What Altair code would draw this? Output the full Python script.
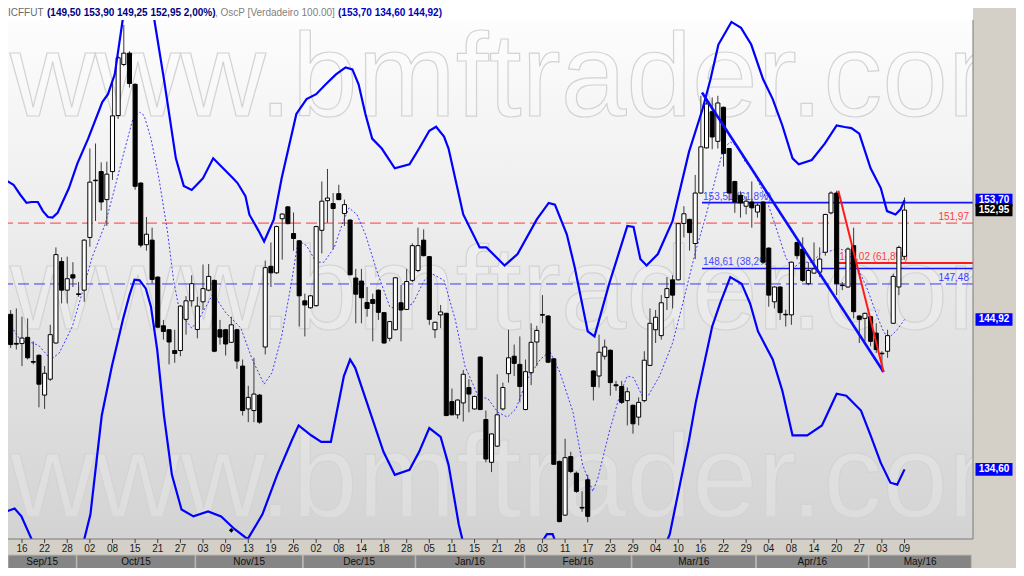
import altair as alt
import pandas as pd

W, H = 965, 519
X_DOMAIN = [-0.47, 170.1]
Y_DOMAIN = [130.06, 167.97]

# ---------------- OHLC (one entry per trading day, bar 0 .. 158) ----------------
opens = [145.29, 143.22, 143.21, 143.65, 141.95, 142.39, 139.62, 140.72, 143.25, 149.12,
         147.03, 148.15, 146.76, 147.03, 150.90, 155.22, 155.88, 153.74, 155.88, 160.24,
         164.33, 165.25, 162.73, 155.00, 150.36, 150.70, 147.98, 144.47, 144.19, 142.72,
         142.72, 144.93, 146.26, 144.21, 146.19, 147.03, 147.74, 144.19, 144.19, 143.30,
         144.19, 141.63, 138.67, 138.56, 139.62, 142.97, 148.77, 148.29, 152.30, 153.19,
         151.19, 150.65, 146.26, 145.76, 145.91, 151.43, 153.66, 153.44, 154.19, 152.69,
         152.20, 147.91, 147.69, 146.14, 146.35, 147.03, 145.41, 143.58, 144.19, 146.12,
         145.64, 147.74, 148.46, 150.70, 149.48, 144.19, 145.25, 145.36, 139.17, 138.27,
         139.08, 140.14, 138.67, 142.26, 137.95, 135.07, 136.15, 138.67, 141.10, 142.32,
         141.75, 138.63, 141.17, 143.32, 145.27, 145.17, 142.14, 135.13, 131.60, 135.45,
         134.35, 132.10, 133.91, 141.29, 140.94, 142.32, 142.74, 140.33, 140.21, 139.24,
         138.92, 138.11, 139.24, 141.68, 144.19, 143.77, 146.50, 147.78, 147.78, 151.95,
         152.25, 150.45, 154.24, 157.71, 160.55, 158.22, 160.90, 157.66, 155.12, 154.07,
         153.24, 153.56, 152.80, 153.56, 150.11, 146.19, 147.26, 145.29, 145.25, 150.53,
         150.04, 147.50, 148.27, 148.34, 149.80, 152.74, 154.24, 147.40, 147.26, 150.29,
         145.17, 145.00, 145.12, 143.95, 142.53, 142.67, 144.65, 147.26, 149.50]
highs = [145.60, 145.71, 145.12, 145.00, 143.37, 142.44, 141.63, 144.54, 150.16, 149.43,
         149.48, 149.07, 147.62, 150.77, 157.66, 158.05, 156.59, 156.64, 163.00, 165.00,
         167.56, 165.40, 162.80, 155.05, 152.43, 151.63, 148.02, 144.89, 144.22, 144.19,
         145.95, 146.60, 148.11, 146.55, 148.90, 148.94, 147.80, 144.89, 144.25, 145.12,
         144.25, 142.09, 140.26, 142.21, 139.70, 149.19, 150.53, 151.78, 152.70, 153.25,
         152.77, 150.70, 146.78, 146.68, 151.78, 155.12, 156.08, 154.24, 154.87, 153.74,
         152.25, 148.58, 148.58, 147.26, 146.78, 147.08, 145.46, 144.82, 147.98, 147.41,
         148.58, 150.46, 151.63, 151.50, 149.53, 144.77, 145.96, 145.41, 140.07, 139.33,
         141.36, 140.72, 139.58, 142.31, 138.56, 137.02, 141.06, 140.48, 144.19, 143.14,
         143.72, 142.09, 144.65, 144.47, 146.67, 145.22, 142.19, 135.18, 136.65, 135.77,
         134.46, 133.15, 134.24, 141.34, 143.84, 143.49, 142.80, 140.60, 140.60, 140.14,
         138.97, 139.46, 142.67, 145.71, 145.60, 146.67, 147.98, 148.11, 151.98, 153.24,
         152.30, 155.62, 161.81, 161.81, 161.68, 161.81, 160.95, 157.71, 155.17, 154.37,
         153.99, 155.12, 153.49, 153.60, 150.16, 147.31, 147.31, 145.62, 149.12, 150.58,
         150.90, 149.07, 150.53, 150.16, 152.67, 154.37, 154.42, 147.62, 150.16, 151.63,
         145.22, 145.41, 145.17, 144.65, 142.67, 144.19, 148.22, 150.29, 153.90]
lows = [142.90, 142.79, 141.63, 142.10, 141.75, 138.78, 138.67, 140.60, 143.21, 146.07,
        146.07, 147.26, 146.55, 146.19, 150.21, 152.13, 152.92, 151.76, 155.24, 159.98,
        164.19, 162.47, 154.49, 150.16, 149.92, 147.50, 144.30, 143.49, 141.75, 141.86,
        142.32, 143.84, 145.84, 143.58, 145.60, 146.95, 142.60, 143.14, 142.37, 143.25,
        141.44, 138.22, 137.77, 137.77, 137.66, 142.44, 147.26, 148.22, 149.26, 151.88,
        149.92, 144.42, 143.72, 145.70, 145.84, 149.72, 152.00, 150.04, 153.70, 151.76,
        148.10, 144.65, 144.65, 145.12, 143.37, 144.89, 143.20, 143.37, 144.14, 143.37,
        145.60, 147.62, 148.34, 149.50, 144.54, 143.60, 144.30, 138.17, 138.22, 138.00,
        137.81, 138.44, 138.62, 138.58, 135.07, 134.42, 136.10, 138.56, 140.48, 140.94,
        139.12, 138.58, 140.31, 141.63, 144.65, 141.85, 134.89, 131.13, 131.55, 134.35,
        133.05, 131.82, 131.14, 139.25, 140.14, 142.09, 139.58, 139.92, 139.01, 137.55,
        136.99, 137.55, 139.12, 141.63, 143.25, 143.49, 145.60, 145.71, 147.74, 150.90,
        149.92, 149.30, 154.18, 157.66, 157.60, 157.66, 156.26, 153.66, 152.74, 152.38,
        152.62, 151.63, 152.38, 148.95, 145.84, 145.71, 144.89, 144.42, 144.54, 149.28,
        147.62, 147.39, 148.22, 147.98, 149.55, 152.62, 146.67, 147.03, 147.20, 145.00,
        143.25, 143.37, 143.02, 142.55, 141.25, 142.21, 144.60, 146.67, 149.25]
closes = [143.14, 143.17, 143.60, 142.21, 141.90, 140.37, 141.13, 143.84, 149.63, 147.03,
          147.86, 147.91, 146.72, 150.70, 155.07, 155.18, 153.56, 155.68, 160.22, 164.87,
          165.25, 162.79, 154.75, 150.33, 151.14, 147.81, 144.37, 144.07, 143.32, 142.51,
          145.88, 146.26, 147.50, 145.88, 147.14, 148.03, 142.67, 143.67, 143.18, 144.54,
          141.98, 138.56, 139.46, 139.69, 137.77, 148.67, 148.29, 151.71, 152.65, 151.93,
          150.82, 146.62, 145.96, 146.62, 151.71, 153.62, 153.86, 153.07, 153.74, 153.36,
          148.15, 146.74, 146.48, 145.71, 146.07, 145.43, 143.25, 144.77, 147.93, 145.60,
          147.66, 150.29, 150.29, 149.55, 144.93, 144.72, 145.46, 138.22, 138.27, 139.28,
          141.06, 139.69, 139.53, 138.63, 135.29, 136.97, 138.27, 140.14, 142.21, 141.82,
          140.21, 141.24, 143.30, 144.14, 145.23, 141.90, 134.94, 131.18, 135.38, 134.46,
          133.15, 132.06, 131.52, 140.21, 142.60, 142.97, 140.48, 140.26, 139.12, 139.85,
          137.66, 139.12, 142.04, 144.65, 145.08, 146.12, 147.14, 146.67, 151.93, 152.67,
          151.26, 154.24, 157.79, 161.16, 158.56, 161.24, 157.28, 154.24, 153.56, 153.49,
          153.62, 153.12, 153.32, 149.07, 146.67, 147.26, 145.41, 145.25, 149.07, 149.55,
          147.74, 148.46, 148.58, 149.30, 152.62, 154.24, 147.50, 147.36, 150.04, 145.48,
          144.93, 145.36, 143.37, 142.79, 142.49, 143.77, 148.03, 150.16, 152.95]

# ---------------- OscP envelope (vertices: bar position, value) ----------------
upper_x = [-0.7, 0.5, 1.7, 2.8, 3.7, 4.8, 5.7, 6.6, 7.4, 8.3, 10.3, 11.8, 13.7, 16.2, 17.2, 18.4, 19.8,
           21.0, 22.8, 24.5, 25.4, 27.1, 29.2, 30.6, 32.0, 33.2, 34.0, 35.8, 37.9, 39.3, 40.1, 41.5,
           42.2, 43.8, 44.8, 46.5, 47.9, 49.1, 50.5, 52.3, 54.0, 55.7, 57.5, 59.2, 60.4, 61.5, 62.7,
           63.9, 65.6, 67.9, 70.5, 72.2, 74.0, 75.2, 76.6, 77.4, 80.0, 82.9, 84.1, 87.3, 89.6, 93.0,
           95.1, 96.2, 98.3, 99.7, 102.0, 103.2, 105.8, 109.0, 110.1, 111.3, 112.4, 114.4, 117.0,
           119.9, 122.3, 123.7, 125.1, 127.4, 129.1, 130.9, 133.0, 134.7, 136.4, 138.2, 139.3, 141.6,
           143.9, 146.0, 147.4, 148.6, 150.0, 152.0, 153.8, 154.9, 156.4, 157.3, 158.0]
upper_v = [155.17, 154.87, 154.11, 153.49, 153.56, 153.56, 152.87, 152.43, 152.38, 152.74, 154.62,
           156.51, 158.43, 161.31, 161.94, 163.53, 167.97, 170.03, 170.86, 169.20, 167.97, 163.13,
           156.90, 154.77, 154.47, 155.00, 155.37, 156.90, 155.98, 155.37, 155.00, 154.01, 152.60,
           151.41, 150.60, 152.23, 155.37, 157.66, 160.37, 161.55, 161.94, 162.73, 163.53, 164.09,
           163.93, 162.73, 160.37, 158.43, 157.66, 156.13, 156.44, 157.66, 159.05, 159.36, 158.59,
           157.66, 152.62, 150.16, 150.16, 148.83, 149.67, 152.25, 153.49, 153.36, 151.14, 148.70,
           144.07, 143.72, 147.50, 151.76, 151.68, 149.31, 148.83, 149.67, 152.13, 157.40, 160.76,
           163.13, 165.95, 167.81, 167.32, 165.95, 163.13, 161.55, 159.46, 156.90, 156.44, 156.77,
           158.04, 159.46, 159.34, 159.26, 158.82, 156.13, 154.62, 152.87, 152.62, 153.00, 153.70]
lower_x = [-0.7, 0.7, 1.9, 3.7, 6.3, 11.5, 14.1, 16.1, 17.9, 19.9, 21.0, 21.9, 22.8, 23.9, 24.8,
           25.9, 27.1, 28.5, 30.2, 32.3, 34.9, 37.2, 39.6, 41.9, 44.5, 47.1, 49.7, 50.9, 53.1, 54.9,
           56.6, 58.9, 60.0, 60.9, 65.9, 67.9, 70.5, 72.2, 74.0, 76.0, 77.4, 79.2, 80.9, 86.1, 91.3,
           94.8, 95.8, 97.4, 103.4, 110.4, 114.7, 116.5, 119.9, 121.1, 124.0, 125.4, 127.2, 129.2,
           130.7, 132.1, 134.7, 136.4, 138.2, 140.8, 143.4, 146.0, 147.7, 150.3, 152.0, 153.8,
           155.5, 156.7, 158.0]
lower_v = [131.84, 132.03, 131.52, 130.05, 127.85, 127.85, 131.65, 138.22, 141.63, 145.00, 146.67,
           147.79, 147.74, 147.14, 145.84, 142.79, 138.22, 134.24, 131.97, 131.52, 131.84, 131.52,
           130.69, 130.05, 131.65, 134.24, 136.55, 137.55, 136.88, 136.44, 136.44, 140.94, 142.09,
           141.51, 135.77, 134.24, 134.57, 135.77, 137.37, 136.77, 134.90, 131.01, 128.47, 126.62,
           128.47, 130.37, 130.37, 128.78, 126.62, 127.24, 128.78, 130.37, 136.55, 139.12, 144.42,
           146.07, 147.98, 147.50, 146.07, 144.07, 142.09, 139.92, 136.88, 136.88, 137.55, 139.71,
           139.58, 138.56, 136.88, 135.03, 133.72, 133.59, 134.60]
mid_x = [-0.7, 0.5, 1.9, 4.0, 5.1, 7.1, 8.6, 10.9, 12.6, 14.4, 16.7, 18.4, 20.2, 21.6, 22.8, 23.6,
         24.8, 26.2, 27.7, 28.8, 29.7, 30.9, 32.0, 33.2, 35.8, 36.9, 38.1, 39.3, 40.7, 42.7, 44.8,
         46.2, 47.9, 49.7, 50.8, 52.3, 54.0, 55.4, 57.2, 58.6, 59.8, 61.2, 62.7, 64.7, 67.0, 68.7,
         71.1, 73.1, 74.5, 76.6, 78.6, 80.3, 82.6, 84.4, 86.1, 87.8, 89.3, 91.3, 93.6, 95.3, 97.1,
         99.4, 101.1, 102.9, 103.8, 105.8, 107.8, 109.0, 110.1, 111.6, 112.7, 114.7, 117.0, 118.8,
         121.1, 122.8, 124.6, 126.0, 127.2, 128.6, 129.8, 131.2, 133.5, 135.3, 137.0, 138.2, 139.6,
         141.6, 143.4, 145.1, 146.3, 148.0, 149.7, 151.5, 153.2, 154.4, 155.5, 156.7, 158.0]
mid_v = [144.89, 144.19, 143.37, 143.25, 143.02, 142.09, 142.55, 144.42, 146.78, 149.43, 151.88,
         154.62, 157.66, 159.98, 160.51, 160.24, 158.43, 155.37, 151.39, 147.74, 145.84, 144.89,
         144.30, 144.89, 146.78, 146.07, 145.36, 144.89, 144.30, 142.09, 140.37, 141.17, 143.72,
         147.74, 150.65, 150.29, 149.07, 149.07, 150.16, 151.88, 153.12, 152.62, 151.14, 148.46,
         145.84, 145.60, 146.07, 147.74, 148.22, 147.74, 144.89, 141.63, 139.58, 139.35, 138.45,
         138.11, 138.67, 140.72, 142.09, 142.67, 141.17, 138.45, 134.90, 133.15, 134.03, 137.10,
         139.80, 140.94, 140.83, 139.58, 139.58, 140.94, 143.25, 146.07, 149.92, 152.38, 155.37,
         157.66, 158.17, 157.81, 156.64, 155.98, 153.86, 151.63, 149.43, 148.58, 149.07, 149.07,
         149.80, 149.92, 150.11, 149.80, 148.70, 147.03, 145.12, 143.95, 143.72, 144.19, 144.92]

# ---------------- studies drawn on the chart ----------------
dash_levels = [151.97, 147.48]
dash_colors = ["#ff3b3b", "#3b3bff"]
dash_texts = ["151,97", "147,48"]
fib_levels = [153.51, 148.61]
fib_texts = ["153,51 (61,8%)", "148,61 (38,2%)"]
fib_start = 122.2
red_fib_level = 149.02
red_fib_text = "149,02 (61,8%)"
red_fib_start = 146.3
blue_trend_x = [122.2, 154.3]
blue_trend_v = [162.08, 141.22]
red_trend_x = [146.3, 154.3]
red_trend_v = [154.42, 141.22]
marker_x = [39]
marker_v = [130.62]

badge_vals = [153.70, 152.95, 144.92, 134.60]
badge_texts = ["153,70", "152,95", "144,92", "134,60"]
badge_fill = ["#0000ff", "#000000", "#0000ff", "#0000ff"]

y_ticks = [130.70, 134.37, 138.04, 141.71, 145.38, 149.05, 152.72, 156.39, 160.06, 163.73, 167.40]

date_labels = ["16", "22", "28", "02", "08", "15", "21", "27", "03", "09", "13", "19", "26", "02",
               "08", "14", "18", "28", "05", "11", "15", "21", "28", "03", "11", "17", "23", "29",
               "04", "10", "16", "22", "29", "04", "08", "14", "20", "27", "03", "09"]
date_pos = [2 + 4 * k for k in range(len(date_labels))]
month_names = ["Sep/15", "Oct/15", "Nov/15", "Dec/15", "Jan/16", "Feb/16", "Mar/16", "Apr/16", "May/16"]
month_start = [-0.47, 11.7, 32.7, 51.7, 71.6, 90.9, 109.8, 131.8, 151.7]
month_end = [11.6, 32.6, 51.6, 71.5, 90.8, 109.7, 131.7, 151.6, 169.8]

FONT = "Liberation Sans"

# ---------------- frames ----------------
n = len(opens)
candles = pd.DataFrame({"idx": list(range(n)), "open": opens, "high": highs,
                        "low": lows, "close": closes})
upper = pd.DataFrame({"i": upper_x, "v": upper_v})
lower = pd.DataFrame({"i": lower_x, "v": lower_v})
mid = pd.DataFrame({"i": mid_x, "v": mid_v})
dashes = pd.DataFrame({"v": dash_levels, "c": dash_colors, "t": dash_texts})
fibs = pd.DataFrame({"v": fib_levels, "t": fib_texts, "s": [fib_start] * 2, "e": [X_DOMAIN[1]] * 2})
redfib = pd.DataFrame({"v": [red_fib_level], "t": [red_fib_text], "s": [red_fib_start], "e": [X_DOMAIN[1]]})
btrend = pd.DataFrame({"i": blue_trend_x, "v": blue_trend_v})
rtrend = pd.DataFrame({"i": red_trend_x, "v": red_trend_v})
markers = pd.DataFrame({"i": marker_x, "v": marker_v})
badges = pd.DataFrame({"v": badge_vals, "t": badge_texts, "f": badge_fill})
dates = pd.DataFrame({"i": date_pos, "t": date_labels})
months = pd.DataFrame({"s": month_start, "e": month_end, "t": month_names,
                       "m": [(a + b) / 2 for a, b in zip(month_start, month_end)]})
one = pd.DataFrame({"k": [0]})

xs = alt.Scale(domain=X_DOMAIN, nice=False, zero=False)
ys = alt.Scale(type="log", domain=Y_DOMAIN, nice=False)
yaxis = alt.Axis(orient="right", values=y_ticks,
                 labelExpr="replace(format(datum.value, '.2f'), '.', ',')",
                 tickSize=4, tickColor="#555555", domain=False, grid=False,
                 labelFont=FONT, labelFontSize=10, labelColor="#222222", labelPadding=3)


def X(f):
    return alt.X(f"{f}:Q", scale=xs, axis=None)


def Y(f, axis=False):
    if axis:
        return alt.Y(f"{f}:Q", scale=ys, axis=yaxis, title=None)
    return alt.Y(f"{f}:Q", scale=ys, axis=None)


grad = alt.LinearGradient(gradient="linear",
                          stops=[alt.GradientStop(color="#fdfdfd", offset=0),
                                 alt.GradientStop(color="#d3d3d3", offset=1)],
                          x1=0, x2=0, y1=0, y2=1)

bg = alt.Chart(one).mark_rect(fill=grad).encode(
    x=alt.value(0), x2=alt.value(W), y=alt.value(0), y2=alt.value(H))
title_strip = alt.Chart(one).mark_rect(color="#ffffff").encode(
    x=alt.value(0), x2=alt.value(W), y=alt.value(-12), y2=alt.value(0))

wm_layers = []
for yb in [96, 309, 497]:
    wm_layers.append(alt.Chart(one).mark_text(
        text="www.bmftrader.com", font=FONT, fontSize=118, align="left", baseline="alphabetic",
        color="#ffffff", fillOpacity=0.2, stroke="#d3d3d3", strokeWidth=1.2, clip=True
    ).encode(x=alt.value(2), y=alt.value(yb)))

dash_rules = alt.Chart(dashes).mark_rule(strokeDash=[11, 5], strokeWidth=1).encode(
    y=Y("v"), color=alt.Color("c:N", scale=None))
dash_text = alt.Chart(dashes).mark_text(align="right", dy=-6, fontSize=10, font=FONT).encode(
    x=alt.value(W - 4), y=Y("v"), text="t:N", color=alt.Color("c:N", scale=None))

fib_rules = alt.Chart(fibs).mark_rule(color="#1515ff", strokeWidth=1.6).encode(
    x=X("s"), x2="e:Q", y=Y("v"))
fib_text = alt.Chart(fibs).mark_text(align="left", dx=1, dy=-6, fontSize=10, font=FONT,
                                     color="#4a4aff").encode(x=X("s"), y=Y("v"), text="t:N")
red_rule = alt.Chart(redfib).mark_rule(color="#ff1a1a", strokeWidth=2).encode(
    x=X("s"), x2="e:Q", y=Y("v"))
red_text = alt.Chart(redfib).mark_text(align="left", dx=1, dy=-6, fontSize=10, font=FONT,
                                       color="#ff4040").encode(x=X("s"), y=Y("v"), text="t:N")

mid_line = alt.Chart(mid).mark_line(color="#3d3dff", strokeWidth=1, strokeDash=[2, 2],
                                    clip=True).encode(x=X("i"), y=Y("v"))

wicks = alt.Chart(candles).mark_rule(color="#3a3a3a", strokeWidth=1).encode(
    x=X("idx"), y=Y("low", axis=True), y2="high:Q")
bodies = alt.Chart(candles).transform_calculate(
    xa="datum.idx - 0.36", xb="datum.idx + 0.36"
).mark_rect(stroke="#000000", strokeWidth=1).encode(
    x=X("xa"), x2="xb:Q", y=Y("open"), y2="close:Q",
    fill=alt.condition("datum.close >= datum.open", alt.value("#ffffff"), alt.value("#000000")))

up_line = alt.Chart(upper).mark_line(color="#0000ff", strokeWidth=2.2, clip=True).encode(
    x=X("i"), y=Y("v"))
lo_line = alt.Chart(lower).mark_line(color="#0000ff", strokeWidth=2.2, clip=True).encode(
    x=X("i"), y=Y("v"))
btr = alt.Chart(btrend).mark_line(color="#0a0aff", strokeWidth=2.6, clip=True).encode(
    x=X("i"), y=Y("v"))
rtr = alt.Chart(rtrend).mark_line(color="#ff1a1a", strokeWidth=2, clip=True).encode(
    x=X("i"), y=Y("v"))
marks = alt.Chart(markers).mark_point(shape="diamond", size=22, filled=True, color="#000000",
                                      opacity=1).encode(x=X("i"), y=Y("v"))

frame_r = alt.Chart(one).mark_rule(color="#7a7a7a").encode(
    x=alt.value(W), y=alt.value(0), y2=alt.value(H))
frame_b = alt.Chart(one).mark_rule(color="#7a7a7a").encode(
    x=alt.value(0), x2=alt.value(W), y=alt.value(H))

badge_box = alt.Chart(badges).mark_point(
    shape="M-1,-0.34L1,-0.34L1,0.34L-1,0.34Z", size=37 * 37, filled=True, opacity=1,
    strokeWidth=0).encode(x=alt.value(W + 21), y=Y("v"), color=alt.Color("f:N", scale=None))
badge_txt = alt.Chart(badges).mark_text(fontSize=10, fontWeight="bold", font=FONT,
                                        color="#ffffff").encode(
    x=alt.value(W + 21), y=Y("v"), text="t:N")

date_ticks = alt.Chart(dates).mark_rule(color="#404040").encode(
    x=X("i"), y=alt.value(H), y2=alt.value(H + 4))
date_text = alt.Chart(dates).mark_text(fontSize=10, font=FONT, color="#1a1a1a",
                                       baseline="middle").encode(
    x=X("i"), y=alt.value(H + 10), text="t:N")
month_rect = alt.Chart(months).mark_rect(fill="#858585", stroke="#bdb9b1", strokeWidth=1).encode(
    x=X("s"), x2="e:Q", y=alt.value(H + 16), y2=alt.value(H + 30))
month_text = alt.Chart(months).mark_text(fontSize=10, font=FONT, color="#101010",
                                         baseline="middle").encode(
    x=X("m"), y=alt.value(H + 23), text="t:N")

title_parts = [
    ("ICFFUT", 0, "#6a6a6a", "normal"),
    ("(149,50 153,90 149,25 152,95 2,00%)", 39, "#000080", "bold"),
    (", OscP [Verdadeiro 100.00]", 207, "#808080", "normal"),
    ("(153,70 134,60 144,92)", 330, "#0000c0", "bold"),
]
title_layers = [
    alt.Chart(one).mark_text(text=t, align="left", baseline="middle", fontSize=10, font=FONT,
                             color=c, fontWeight=fw).encode(x=alt.value(x), y=alt.value(-7))
    for t, x, c, fw in title_parts
]

chart = alt.layer(
    bg, title_strip, *wm_layers, dash_rules, dash_text, fib_rules, fib_text, red_rule, red_text,
    mid_line, wicks, bodies, up_line, lo_line, btr, rtr, marks, frame_r, frame_b,
    badge_box, badge_txt, date_ticks, date_text, month_rect, month_text, *title_layers
).properties(
    width=W, height=H, background="#d4d0c8",
    padding={"left": 0, "top": 12, "right": 43, "bottom": 29},
    autosize=alt.AutoSizeParams(type="none")
).configure_view(strokeWidth=0)

chart.save("out.html", embed_options={"renderer": "svg", "actions": False})
